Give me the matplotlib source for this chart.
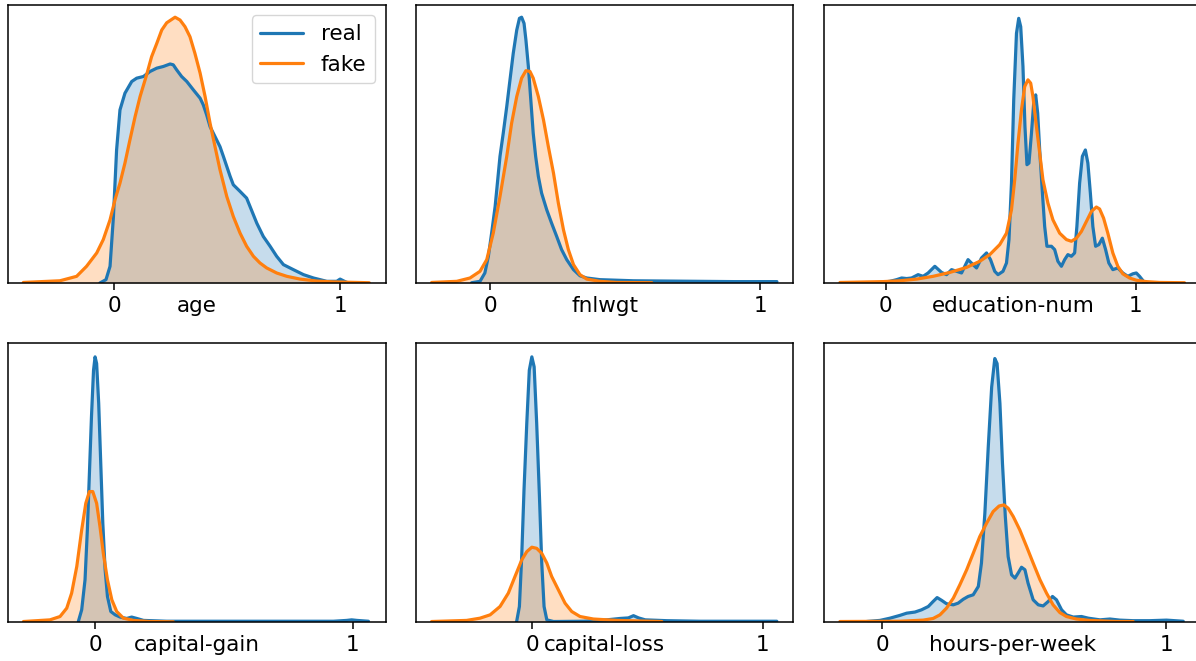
import matplotlib
matplotlib.use("Agg")
import matplotlib.pyplot as plt
from matplotlib import transforms

# ---------------- data ----------------
features = ["age", "fnlwgt", "education-num",
            "capital-gain", "capital-loss", "hours-per-week"]
series_labels = ["real", "fake"]
tick_values = [0, 1]

# age
age_real_x = [-0.064, -0.037, -0.019, -0.004, 0.010, 0.025, 0.047, 0.077, 0.099, 0.129,
              0.158, 0.188, 0.217, 0.247, 0.261, 0.276, 0.298, 0.321, 0.350, 0.380,
              0.394, 0.409, 0.424, 0.446, 0.468, 0.483, 0.498, 0.513, 0.527, 0.557,
              0.586, 0.601, 0.631, 0.660, 0.690, 0.719, 0.749, 0.793, 0.838, 0.882,
              0.941, 0.985, 1.000, 1.022, 1.037]
age_real_y = [0.000, 0.012, 0.060, 0.239, 0.478, 0.622, 0.682, 0.724, 0.736, 0.742,
              0.760, 0.772, 0.778, 0.787, 0.784, 0.766, 0.742, 0.724, 0.694, 0.664,
              0.640, 0.604, 0.562, 0.526, 0.490, 0.455, 0.419, 0.383, 0.353, 0.329,
              0.305, 0.275, 0.215, 0.167, 0.132, 0.096, 0.066, 0.048, 0.030, 0.018,
              0.006, 0.006, 0.014, 0.005, 0.000]
age_fake_x = [-0.403, -0.241, -0.167, -0.123, -0.078, -0.049, -0.019, 0.003, 0.025, 0.047,
              0.069, 0.092, 0.114, 0.143, 0.165, 0.188, 0.210, 0.232, 0.254, 0.269,
              0.291, 0.313, 0.335, 0.357, 0.380, 0.402, 0.424, 0.446, 0.468, 0.498,
              0.527, 0.557, 0.586, 0.616, 0.645, 0.675, 0.719, 0.764, 0.823, 0.897,
              0.970, 1.129]
age_fake_y = [0.002, 0.008, 0.024, 0.060, 0.108, 0.156, 0.227, 0.299, 0.359, 0.431,
              0.514, 0.598, 0.670, 0.748, 0.813, 0.861, 0.909, 0.935, 0.947, 0.955,
              0.945, 0.921, 0.885, 0.825, 0.754, 0.670, 0.574, 0.490, 0.407, 0.311,
              0.239, 0.179, 0.132, 0.096, 0.072, 0.054, 0.036, 0.024, 0.014, 0.007,
              0.004, 0.001]

# fnlwgt
fnlwgt_real_x = [-0.068, -0.037, -0.019, -0.006, 0.006, 0.019, 0.037, 0.049, 0.062, 0.074,
                 0.086, 0.099, 0.109, 0.117, 0.126, 0.133, 0.142, 0.151, 0.160, 0.169,
                 0.179, 0.191, 0.210, 0.228, 0.247, 0.265, 0.284, 0.309, 0.333, 0.358,
                 0.407, 0.531, 0.654, 0.778, 0.901, 1.062]
fnlwgt_real_y = [0.001, 0.006, 0.036, 0.096, 0.179, 0.275, 0.455, 0.538, 0.634, 0.730,
                 0.825, 0.909, 0.951, 0.955, 0.933, 0.873, 0.778, 0.658, 0.538, 0.455,
                 0.383, 0.323, 0.263, 0.215, 0.167, 0.120, 0.084, 0.048, 0.026, 0.018,
                 0.012, 0.008, 0.007, 0.006, 0.005, 0.005]
fnlwgt_fake_x = [-0.216, -0.123, -0.074, -0.037, -0.012, 0.012, 0.037, 0.062, 0.080, 0.099,
                 0.117, 0.133, 0.148, 0.160, 0.179, 0.198, 0.216, 0.235, 0.253, 0.272,
                 0.290, 0.309, 0.333, 0.358, 0.407, 0.469, 0.599]
fnlwgt_fake_y = [0.002, 0.006, 0.018, 0.042, 0.084, 0.179, 0.311, 0.455, 0.574, 0.670,
                 0.736, 0.763, 0.760, 0.736, 0.670, 0.586, 0.490, 0.395, 0.287, 0.191,
                 0.120, 0.066, 0.030, 0.014, 0.006, 0.002, 0.001]

# education-num
edu_real_x = [-0.024, 0.016, 0.043, 0.063, 0.083, 0.103, 0.129, 0.149, 0.169, 0.196,
              0.223, 0.243, 0.263, 0.283, 0.303, 0.329, 0.349, 0.363, 0.383, 0.403,
              0.419, 0.436, 0.449, 0.469, 0.483, 0.493, 0.503, 0.512, 0.523, 0.532,
              0.540, 0.549, 0.557, 0.565, 0.573, 0.583, 0.592, 0.600, 0.608, 0.616,
              0.627, 0.636, 0.645, 0.663, 0.676, 0.689, 0.703, 0.716, 0.729, 0.743,
              0.756, 0.765, 0.776, 0.787, 0.799, 0.809, 0.819, 0.829, 0.840, 0.853,
              0.867, 0.880, 0.893, 0.909, 0.929, 0.949, 0.969, 0.989, 1.003, 1.016,
              1.032, 1.049]
edu_real_y = [0.002, 0.006, 0.012, 0.018, 0.016, 0.018, 0.030, 0.024, 0.036, 0.060,
              0.038, 0.030, 0.048, 0.042, 0.036, 0.084, 0.066, 0.054, 0.090, 0.108,
              0.084, 0.042, 0.030, 0.042, 0.072, 0.156, 0.359, 0.658, 0.897, 0.951,
              0.921, 0.778, 0.562, 0.425, 0.431, 0.538, 0.646, 0.676, 0.610, 0.478,
              0.323, 0.203, 0.132, 0.132, 0.120, 0.078, 0.060, 0.084, 0.102, 0.096,
              0.108, 0.203, 0.359, 0.455, 0.478, 0.431, 0.323, 0.203, 0.132, 0.138,
              0.161, 0.120, 0.072, 0.048, 0.054, 0.036, 0.024, 0.033, 0.036, 0.024,
              0.006, 0.001]
edu_fake_x = [-0.184, -0.011, 0.056, 0.123, 0.189, 0.256, 0.323, 0.376, 0.416, 0.456,
              0.483, 0.503, 0.516, 0.529, 0.543, 0.556, 0.569, 0.580, 0.589, 0.603,
              0.616, 0.629, 0.649, 0.669, 0.696, 0.723, 0.743, 0.763, 0.783, 0.803,
              0.823, 0.843, 0.856, 0.872, 0.889, 0.909, 0.929, 0.949, 0.976, 1.003,
              1.043, 1.096, 1.196]
edu_fake_y = [0.002, 0.005, 0.008, 0.014, 0.024, 0.038, 0.056, 0.078, 0.102, 0.138,
              0.179, 0.263, 0.371, 0.502, 0.622, 0.706, 0.730, 0.718, 0.670, 0.562,
              0.467, 0.371, 0.287, 0.227, 0.179, 0.156, 0.150, 0.161, 0.185, 0.221,
              0.257, 0.273, 0.266, 0.233, 0.179, 0.108, 0.060, 0.033, 0.018, 0.010,
              0.005, 0.002, 0.001]

# capital-gain
gain_real_x = [-0.065, -0.052, -0.039, -0.030, -0.022, -0.014, -0.006, 0.000, 0.006, 0.014,
               0.022, 0.030, 0.039, 0.048, 0.061, 0.078, 0.097, 0.123, 0.142, 0.162,
               0.188, 0.278, 0.537, 0.925, 0.977, 0.996, 1.016, 1.061]
gain_real_y = [0.001, 0.043, 0.151, 0.330, 0.533, 0.737, 0.904, 0.952, 0.928, 0.785,
               0.569, 0.354, 0.187, 0.091, 0.037, 0.025, 0.017, 0.012, 0.017, 0.012,
               0.005, 0.002, 0.002, 0.002, 0.005, 0.007, 0.005, 0.002]
gain_fake_x = [-0.278, -0.175, -0.136, -0.110, -0.091, -0.071, -0.052, -0.036, -0.022, -0.009,
               0.006, 0.019, 0.032, 0.048, 0.065, 0.084, 0.110, 0.149, 0.213, 0.304]
gain_fake_y = [0.001, 0.007, 0.019, 0.049, 0.103, 0.199, 0.330, 0.426, 0.468, 0.468,
               0.426, 0.342, 0.246, 0.151, 0.079, 0.037, 0.013, 0.005, 0.001, 0.000]

# capital-loss
loss_real_x = [-0.067, -0.055, -0.045, -0.035, -0.023, -0.012, -0.001, 0.009, 0.020, 0.032,
               0.042, 0.052, 0.064, 0.093, 0.223, 0.324, 0.382, 0.418, 0.440, 0.462,
               0.491, 0.585, 0.729, 0.874, 1.062]
loss_real_y = [0.001, 0.055, 0.234, 0.474, 0.713, 0.904, 0.952, 0.916, 0.713, 0.450,
               0.211, 0.055, 0.007, 0.001, 0.002, 0.007, 0.012, 0.014, 0.022, 0.014,
               0.007, 0.004, 0.002, 0.002, 0.002]
loss_fake_x = [-0.436, -0.284, -0.226, -0.182, -0.139, -0.103, -0.074, -0.045, -0.023, -0.001,
               0.020, 0.042, 0.064, 0.085, 0.114, 0.143, 0.172, 0.208, 0.266, 0.368,
               0.563]
loss_fake_y = [0.001, 0.005, 0.013, 0.025, 0.055, 0.103, 0.163, 0.222, 0.252, 0.268,
               0.264, 0.246, 0.211, 0.163, 0.115, 0.067, 0.037, 0.019, 0.010, 0.005,
               0.001]

# hours-per-week
hours_real_x = [-0.055, -0.008, 0.027, 0.062, 0.086, 0.115, 0.138, 0.162, 0.179, 0.193,
                0.209, 0.226, 0.250, 0.267, 0.285, 0.302, 0.320, 0.338, 0.349, 0.361,
                0.373, 0.385, 0.396, 0.404, 0.414, 0.423, 0.433, 0.443, 0.455, 0.467,
                0.478, 0.490, 0.502, 0.513, 0.531, 0.549, 0.566, 0.584, 0.599, 0.613,
                0.631, 0.648, 0.672, 0.701, 0.725, 0.766, 0.801, 0.836, 0.883, 0.941,
                1.000, 1.059]
hours_real_y = [0.001, 0.005, 0.013, 0.023, 0.031, 0.035, 0.043, 0.055, 0.073, 0.087,
                0.077, 0.065, 0.061, 0.067, 0.081, 0.091, 0.097, 0.127, 0.211, 0.390,
                0.629, 0.844, 0.946, 0.928, 0.785, 0.569, 0.378, 0.234, 0.169, 0.157,
                0.175, 0.196, 0.187, 0.139, 0.079, 0.061, 0.057, 0.073, 0.091, 0.079,
                0.043, 0.025, 0.017, 0.019, 0.013, 0.007, 0.010, 0.006, 0.004, 0.004,
                0.006, 0.002]
hours_fake_x = [-0.149, 0.062, 0.144, 0.179, 0.203, 0.226, 0.250, 0.273, 0.297, 0.320,
                0.343, 0.367, 0.390, 0.411, 0.428, 0.443, 0.461, 0.484, 0.508, 0.531,
                0.555, 0.578, 0.601, 0.625, 0.648, 0.683, 0.730, 0.824, 0.883]
hours_fake_y = [0.001, 0.002, 0.006, 0.012, 0.025, 0.049, 0.085, 0.133, 0.187, 0.246,
                0.306, 0.354, 0.396, 0.416, 0.420, 0.408, 0.378, 0.330, 0.270, 0.211,
                0.151, 0.103, 0.061, 0.033, 0.019, 0.010, 0.005, 0.001, 0.001]

real_curves = [(age_real_x, age_real_y), (fnlwgt_real_x, fnlwgt_real_y),
               (edu_real_x, edu_real_y), (gain_real_x, gain_real_y),
               (loss_real_x, loss_real_y), (hours_real_x, hours_real_y)]
fake_curves = [(age_fake_x, age_fake_y), (fnlwgt_fake_x, fnlwgt_fake_y),
               (edu_fake_x, edu_fake_y), (gain_fake_x, gain_fake_y),
               (loss_fake_x, loss_fake_y), (hours_fake_x, hours_fake_y)]

# ---------------- layout / style ----------------
x_limits = [(-0.471, 1.202), (-0.275, 1.123), (-0.248, 1.265),
            (-0.338, 1.128), (-0.505, 1.134), (-0.205, 1.124)]

W, H = 1196, 661
fig = plt.figure(figsize=(W / 100, H / 100), dpi=100)
fig.patch.set_facecolor("white")

col_left_px = [8, 415.7, 824]
ax_w_px = 377.7
row_top_px = [4.7, 343.5]
ax_h_px = 278.3

colors = ["#1f77b4", "#ff7f0e"]
fs = 15.5
lw = 2.3

for i, name in enumerate(features):
    r, c = divmod(i, 3)
    left = col_left_px[c] / W
    bottom = (H - row_top_px[r] - ax_h_px) / H
    ax = fig.add_axes([left, bottom, ax_w_px / W, ax_h_px / H])

    for (xs, ys), col, lab in zip([real_curves[i], fake_curves[i]], colors, series_labels):
        ax.plot(xs, ys, color=col, lw=lw, label=lab,
                solid_joinstyle="round", solid_capstyle="round")
        ax.fill_between(xs, 0, ys, color=col, alpha=0.25, linewidth=0)

    ax.set_xlim(*x_limits[i])
    ax.set_ylim(0, 1)
    ax.set_yticks([])
    ax.set_xticks(tick_values)
    ax.set_xticklabels([str(t) for t in tick_values])
    ax.tick_params(axis="x", length=4.8, width=1.1, pad=4.8, labelsize=fs, colors="black")
    for sp in ax.spines.values():
        sp.set_linewidth(1.1)
        sp.set_color("black")

    ax.set_xlabel(name, fontsize=fs)
    tr = transforms.offset_copy(ax.transAxes, fig=fig, x=0, y=-(4.8 + 4.8), units="points")
    ax.xaxis.set_label_coords(0.5, 0, transform=tr)
    ax.xaxis.label.set_verticalalignment("top")

    if i == 0:
        leg = ax.legend(loc="upper right", fontsize=fs, handlelength=2.0)
        for h in leg.get_lines():
            h.set_linewidth(lw)

fig.savefig("out.png", dpi=100, facecolor="white")
